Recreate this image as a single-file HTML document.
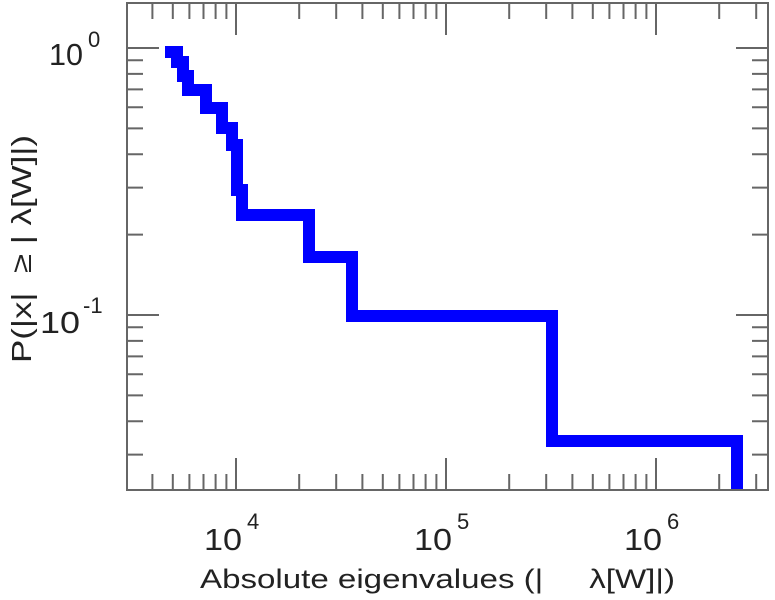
<!DOCTYPE html>
<html><head><meta charset="utf-8"><style>
html,body{margin:0;padding:0;background:#fff;}
svg{display:block;font-family:"Liberation Sans",sans-serif;}
text{white-space:pre;}
</style></head><body>
<svg width="775" height="600" xmlns="http://www.w3.org/2000/svg">
<g stroke="#666" stroke-width="2" fill="none">
<path d="M236,490v-32M446,490v-32M656,490v-32M236,3v32M446,3v32M656,3v32
M152.4,490v-16M172.8,490v-16M189.4,490v-16M203.5,490v-16M215.6,490v-16M226.4,490v-16
M299.2,490v-16M336.2,490v-16M362.4,490v-16M382.8,490v-16M399.4,490v-16M413.5,490v-16M425.6,490v-16M436.4,490v-16
M509.2,490v-16M546.2,490v-16M572.4,490v-16M592.8,490v-16M609.4,490v-16M623.5,490v-16M635.6,490v-16M646.4,490v-16
M719.2,490v-16M756.2,490v-16
M152.4,3v16M172.8,3v16M189.4,3v16M203.5,3v16M215.6,3v16M226.4,3v16
M299.2,3v16M336.2,3v16M362.4,3v16M382.8,3v16M399.4,3v16M413.5,3v16M425.6,3v16M436.4,3v16
M509.2,3v16M546.2,3v16M572.4,3v16M592.8,3v16M609.4,3v16M623.5,3v16M635.6,3v16M646.4,3v16
M719.2,3v16M756.2,3v16
M127,48h32M127,315h32M768,48h-32M768,315h-32
M127,60.2h16M127,73.9h16M127,89.4h16M127,107.3h16M127,128.4h16M127,154.3h16M127,187.6h16M127,234.6h16
M127,327.2h16M127,340.9h16M127,356.4h16M127,374.3h16M127,395.4h16M127,421.3h16M127,454.6h16
M768,60.2h-16M768,73.9h-16M768,89.4h-16M768,107.3h-16M768,128.4h-16M768,154.3h-16M768,187.6h-16M768,234.6h-16
M768,327.2h-16M768,340.9h-16M768,356.4h-16M768,374.3h-16M768,395.4h-16M768,421.3h-16M768,454.6h-16"/>
</g>
<path d="M165,52 H177 V62 H183 V76 H188 V90 H206 V108 H222 V128 H232 V145 H237 V190 H242 V215 H309 V257 H352 V316 H552 V441 H737 V490" fill="none" stroke="#0000ff" stroke-width="12" stroke-linejoin="miter"/>
<rect x="127" y="3" width="641" height="487" fill="none" stroke="#666" stroke-width="2"/>
<g font-size="31" fill="#222">
<text x="204" y="550" textLength="38" lengthAdjust="spacingAndGlyphs">10</text><text x="247" y="529" font-size="22">4</text>
<text x="414" y="550" textLength="38" lengthAdjust="spacingAndGlyphs">10</text><text x="457" y="529" font-size="22">5</text>
<text x="624" y="550" textLength="38" lengthAdjust="spacingAndGlyphs">10</text><text x="667" y="529" font-size="22">6</text>
<text x="49" y="65" textLength="34" lengthAdjust="spacingAndGlyphs">10</text><text x="88" y="47" font-size="22">0</text>
<text x="40" y="333" textLength="40" lengthAdjust="spacingAndGlyphs">10</text><text x="83" y="313" font-size="22">-1</text>
<text x="200" y="588" font-size="27" textLength="475" lengthAdjust="spacingAndGlyphs">Absolute eigenvalues (|     λ[W]|)</text>
<text transform="translate(31,249) rotate(-90)" text-anchor="middle" font-size="28" textLength="228" lengthAdjust="spacingAndGlyphs">P(|x|  ≥ | λ[W]|)</text>
</g>
</svg>
</body></html>
